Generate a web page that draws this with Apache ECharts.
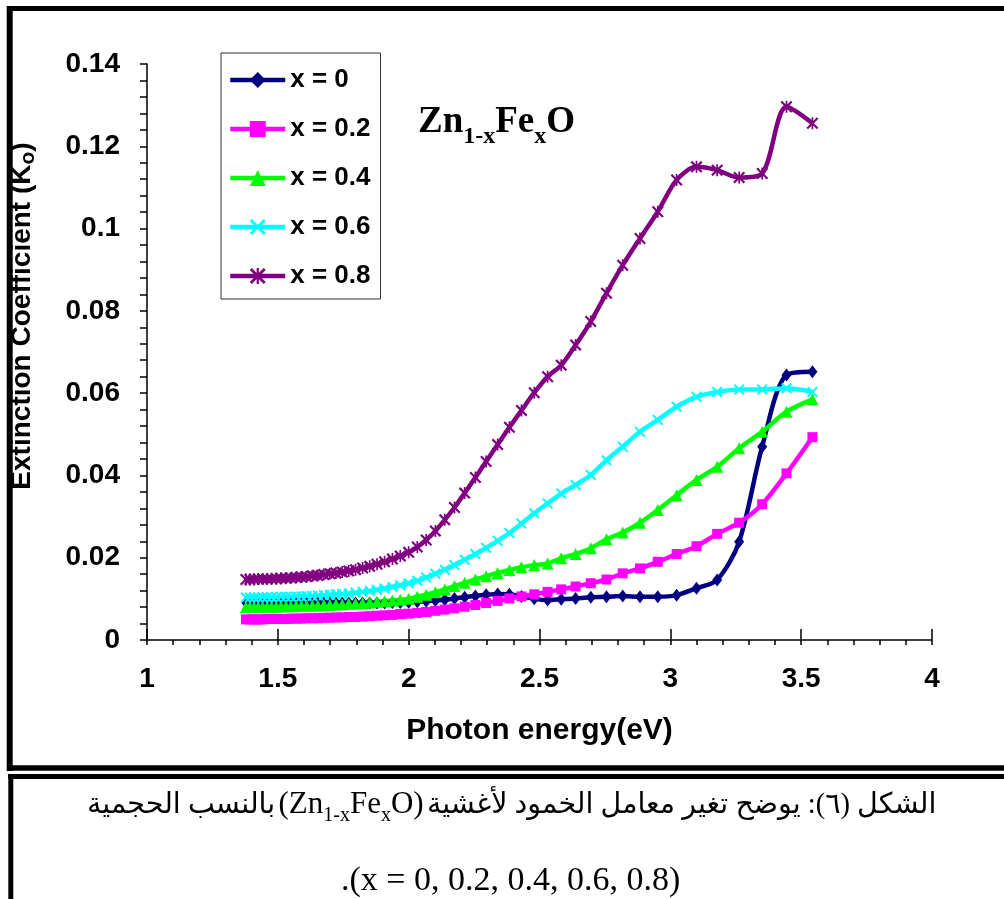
<!DOCTYPE html>
<html><head><meta charset="utf-8">
<script src="https://cdn.jsdelivr.net/npm/echarts@6/dist/echarts.min.js"></script>
<style>html,body{margin:0;padding:0;background:#fff}#c{width:1004px;height:899px}</style>
</head><body><div id="c"></div>
<script>
// Photon energy (eV) of the measured points
const energy = [1.378,1.393,1.409,1.425,1.442,1.459,1.476,1.494,1.512,1.531,1.550,1.570,1.590,1.610,1.632,1.653,1.676,1.699,1.722,1.746,1.771,1.797,1.824,1.851,1.879,1.908,1.938,1.968,2.000,2.033,2.067,2.102,2.138,2.175,2.214,2.255,2.296,2.340,2.385,2.431,2.480,2.531,2.583,2.638,2.696,2.756,2.818,2.884,2.952,3.024,3.100,3.179,3.263,3.351,3.444,3.543];
// Extinction coefficient for each composition
const k_x0 = [0.0092,0.0091,0.0090,0.0090,0.0090,0.0090,0.0090,0.0090,0.0090,0.0090,0.0090,0.0090,0.0090,0.0090,0.0090,0.0090,0.0090,0.0090,0.0090,0.0090,0.0090,0.0090,0.0090,0.0090,0.0090,0.0090,0.0091,0.0091,0.0092,0.0093,0.0094,0.0096,0.0098,0.0101,0.0104,0.0107,0.0110,0.0112,0.0111,0.0106,0.0100,0.0097,0.0099,0.0101,0.0104,0.0105,0.0107,0.0105,0.0105,0.0109,0.0126,0.0146,0.0239,0.0470,0.0644,0.0652];
const k_x02 = [0.0050,0.0050,0.0050,0.0050,0.0050,0.0051,0.0051,0.0051,0.0051,0.0051,0.0052,0.0052,0.0052,0.0053,0.0053,0.0053,0.0054,0.0054,0.0055,0.0055,0.0056,0.0056,0.0057,0.0058,0.0059,0.0060,0.0061,0.0063,0.0064,0.0066,0.0068,0.0071,0.0074,0.0077,0.0081,0.0085,0.0090,0.0095,0.0101,0.0106,0.0111,0.0117,0.0123,0.0130,0.0138,0.0147,0.0162,0.0174,0.0190,0.0209,0.0228,0.0258,0.0285,0.0330,0.0405,0.0493];
const k_x04 = [0.0080,0.0080,0.0080,0.0080,0.0081,0.0081,0.0081,0.0081,0.0082,0.0082,0.0082,0.0083,0.0083,0.0083,0.0084,0.0084,0.0085,0.0085,0.0086,0.0087,0.0088,0.0089,0.0090,0.0091,0.0093,0.0094,0.0096,0.0098,0.0100,0.0105,0.0110,0.0116,0.0123,0.0131,0.0139,0.0147,0.0155,0.0163,0.0170,0.0177,0.0182,0.0186,0.0199,0.0209,0.0223,0.0245,0.0261,0.0285,0.0316,0.0352,0.0389,0.0421,0.0466,0.0506,0.0555,0.0585];
const k_x06 = [0.0103,0.0103,0.0103,0.0103,0.0104,0.0104,0.0104,0.0104,0.0105,0.0105,0.0105,0.0106,0.0106,0.0107,0.0107,0.0108,0.0109,0.0110,0.0111,0.0112,0.0113,0.0115,0.0117,0.0119,0.0122,0.0125,0.0129,0.0133,0.0138,0.0144,0.0152,0.0161,0.0171,0.0182,0.0195,0.0209,0.0224,0.0241,0.0260,0.0283,0.0308,0.0332,0.0356,0.0377,0.0401,0.0437,0.0470,0.0506,0.0535,0.0567,0.0591,0.0603,0.0609,0.0609,0.0612,0.0603];
const k_x08 = [0.0147,0.0147,0.0147,0.0148,0.0148,0.0148,0.0149,0.0149,0.0150,0.0150,0.0151,0.0152,0.0153,0.0154,0.0156,0.0157,0.0159,0.0161,0.0163,0.0165,0.0168,0.0171,0.0175,0.0179,0.0184,0.0190,0.0197,0.0204,0.0213,0.0226,0.0243,0.0265,0.0292,0.0322,0.0357,0.0395,0.0434,0.0475,0.0517,0.0558,0.0601,0.0640,0.0668,0.0717,0.0774,0.0843,0.0911,0.0976,0.1041,0.1118,0.1150,0.1142,0.1124,0.1134,0.1296,0.1256];
const seriesNames = ['x = 0','x = 0.2','x = 0.4','x = 0.6','x = 0.8'];
const seriesValues = [k_x0, k_x02, k_x04, k_x06, k_x08];
const xRange = [1, 4, 0.5];
const yRange = [0, 0.14, 0.02];

const colors = ['#000080','#FF00FF','#00FF00','#00FFFF','#800080'];
const xPath = 'path://M0,1.3L1.3,0L5,3.7L8.7,0L10,1.3L6.3,5L10,8.7L8.7,10L5,6.3L1.3,10L0,8.7L3.7,5Z';
const starPath = 'path://M0,1.3L1.3,0L5,3.7L8.7,0L10,1.3L6.3,5L10,8.7L8.7,10L5,6.3L1.3,10L0,8.7L3.7,5Z M4.3,0L5.7,0L5.7,10L4.3,10Z';
const symbols = ['diamond','rect','triangle',xPath,starPath];
const symbolSizes = [[10,13],10,12,11,12];

const chart = echarts.init(document.getElementById('c'), null, {renderer:'canvas'});
const axisFont = {fontFamily:'Liberation Sans, Arial', fontWeight:'bold', color:'#000'};

const series = seriesNames.map((n,si)=>({
  name:n, type:'line', xAxisIndex:0,
  data: energy.map((e,i)=>[e, seriesValues[si][i]]),
  smooth:0.3,
  symbol:symbols[si], symbolSize:symbolSizes[si],
  lineStyle:{width:4.5,color:colors[si]},
  itemStyle:{color:colors[si]},
  emphasis:{disabled:true},
  animation:false
}));

chart.setOption({
  backgroundColor:'#fff',
  animation:false,
  grid:{left:147, right:72, top:64, bottom:259, containLabel:false, outerBoundsMode:'none'},
  legend:{
    orient:'vertical', left:221, top:53,
    padding:[14,10,10,7], itemGap:23, itemWidth:55, itemHeight:20,
    borderColor:'#333', borderWidth:1,
    lineStyle:{width:4.5},
    textStyle:Object.assign({fontSize:26}, axisFont),
    data: seriesNames
  },
  xAxis:[{
    type:'value', min:xRange[0], max:xRange[1], interval:xRange[2],
    name:'Photon energy(eV)', nameLocation:'middle', nameGap:76,
    nameTextStyle:Object.assign({fontSize:30}, axisFont),
    axisLine:{lineStyle:{color:'#000',width:1.5}},
    axisTick:{show:true, length:5, lineStyle:{color:'#000',width:1.5}},
    minorTick:{show:true, splitNumber:5, length:5, lineStyle:{color:'#000',width:1.5}},
    axisLabel:Object.assign({fontSize:28, margin:25}, axisFont),
    splitLine:{show:false}
  },{
    type:'value', min:xRange[0], max:xRange[1], interval:xRange[2], position:'bottom',
    axisLine:{show:false}, axisLabel:{show:false},
    axisTick:{show:true, inside:true, length:11, lineStyle:{color:'#000',width:1.5}},
    splitLine:{show:false}
  }],
  yAxis:{
    type:'value', min:yRange[0], max:yRange[1], interval:yRange[2],
    name:'{a|Extinction Coefficient (K}{s|o}{a|)}', nameLocation:'middle', nameGap:108,
    nameTextStyle:{padding:[0,0,0,72], rich:{
      a:Object.assign({fontSize:28, verticalAlign:'bottom', padding:[0,0,3,0]}, axisFont),
      s:Object.assign({fontSize:21, verticalAlign:'bottom'}, axisFont)
    }},
    axisLine:{show:true, lineStyle:{color:'#000',width:1.5}},
    axisTick:{show:true, length:7, lineStyle:{color:'#000',width:1.5}},
    minorTick:{show:true, splitNumber:5, length:7, lineStyle:{color:'#000',width:1.5}},
    axisLabel:Object.assign({fontSize:28, margin:27}, axisFont),
    splitLine:{show:false}
  },
  graphic:[
    {type:'text', left:418, top:104, z:10, style:{
      text:'{m|Zn}{s|1-x}{m|Fe}{s|x}{m|O}',
      rich:{
        m:{fontFamily:'Liberation Serif', fontWeight:'bold', fontSize:37, fill:'#000', verticalAlign:'bottom', padding:[0,0,8,0]},
        s:{fontFamily:'Liberation Serif', fontWeight:'bold', fontSize:24, fill:'#000', verticalAlign:'bottom'}
      }}},
    // frame
    {type:'line', shape:{x1:7, y1:8.5, x2:1004, y2:8.5}, style:{stroke:'#000', lineWidth:5}},
    {type:'line', shape:{x1:9.7, y1:6, x2:9.7, y2:771}, style:{stroke:'#000', lineWidth:6}},
    {type:'line', shape:{x1:7, y1:768, x2:1004, y2:768}, style:{stroke:'#000', lineWidth:5.5}},
    {type:'line', shape:{x1:8, y1:776.5, x2:1004, y2:776.5}, style:{stroke:'#000', lineWidth:5}},
    {type:'line', shape:{x1:10.8, y1:774, x2:10.8, y2:899}, style:{stroke:'#000', lineWidth:5}},
    // caption
    {type:'text', left:87, top:789, style:{
      text:'{ar|بالنسب الحجمية} {la|(Zn}{sb|1-x}{la|Fe}{sb|x}{la|O)} {ar|الشكل (٦): يوضح تغير معامل الخمود لأغشية}',
      rich:{
        ar:{fontFamily:'Liberation Serif, DejaVu Sans', fontSize:28.5, fill:'#000', verticalAlign:'bottom', padding:[0,0,6,0]},
        la:{fontFamily:'Liberation Serif', fontSize:31, fill:'#000', verticalAlign:'bottom', padding:[0,0,6,0]},
        sb:{fontFamily:'Liberation Serif', fontSize:20, fill:'#000', verticalAlign:'bottom'}
      }}},
    {type:'text', left:341, top:864, style:{
      text:'.(x = 0, 0.2, 0.4, 0.6, 0.8)',
      font:'34px "Liberation Serif"', fill:'#000'
    }}
  ],
  series: series
});
</script></body></html>
